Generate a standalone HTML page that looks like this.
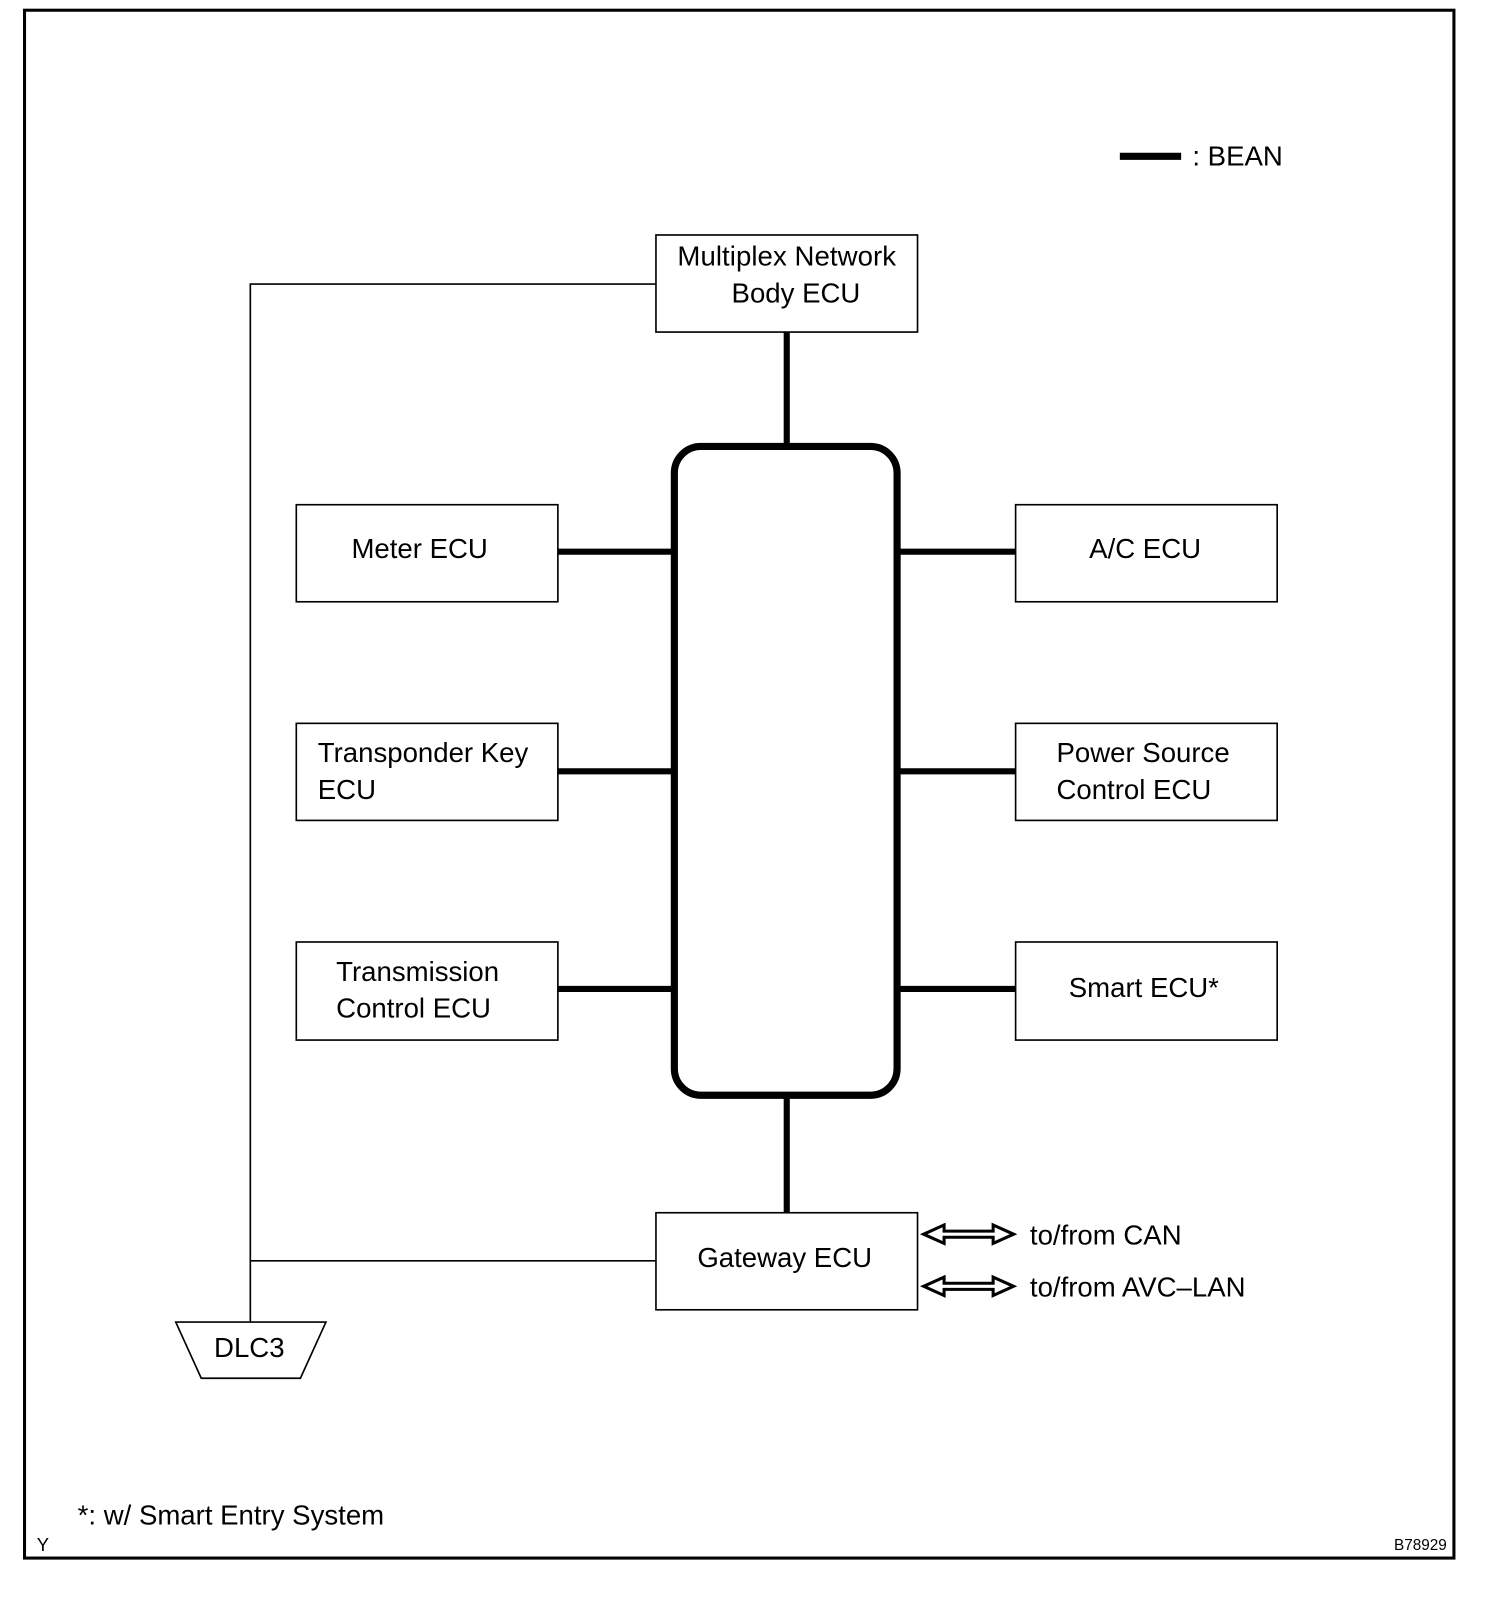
<!DOCTYPE html>
<html><head><meta charset="utf-8"><style>
html,body{margin:0;padding:0;background:#fff;}
svg{display:block;}
text{font-family:"Liberation Sans",sans-serif;font-size:27px;fill:#000;}
</style></head><body>
<svg width="1504" height="1602" viewBox="0 0 1472 1568" preserveAspectRatio="none" xmlns="http://www.w3.org/2000/svg">
<rect x="24" y="10" width="1399" height="1515" fill="#fff" stroke="#000" stroke-width="3"/>
<line x1="1096" y1="153" x2="1156" y2="153" stroke="#000" stroke-width="7"/>
<text x="1167" y="162">: BEAN</text>
<g fill="#fff" stroke="#000" stroke-width="1.6">
<rect x="642" y="230" width="256" height="95"/>
<rect x="290" y="494" width="256" height="95"/>
<rect x="290" y="708" width="256" height="95"/>
<rect x="290" y="922" width="256" height="96"/>
<rect x="994" y="494" width="256" height="95"/>
<rect x="994" y="708" width="256" height="95"/>
<rect x="994" y="922" width="256" height="96"/>
<rect x="642" y="1187" width="256" height="95"/>
<polyline points="642,278 245,278 245,1294" fill="none"/>
<line x1="245" y1="1234" x2="642" y2="1234"/>
<polygon points="172,1294 319,1294 294,1349 197,1349"/>
</g>
<rect x="660" y="437" width="218" height="635" rx="26" fill="none" stroke="#000" stroke-width="7"/>
<g stroke="#000" stroke-width="6">
<line x1="770" y1="325" x2="770" y2="437"/>
<line x1="770" y1="1072" x2="770" y2="1187"/>
<line x1="546" y1="540" x2="660" y2="540"/>
<line x1="546" y1="755" x2="660" y2="755"/>
<line x1="546" y1="968" x2="660" y2="968"/>
<line x1="878" y1="540" x2="994" y2="540"/>
<line x1="878" y1="755" x2="994" y2="755"/>
<line x1="878" y1="968" x2="994" y2="968"/>
</g>
<g fill="#fff" stroke="#000" stroke-width="3">
<polygon points="904,1208 924,1199 924,1205 972,1205 972,1199 992,1208 972,1217 972,1211 924,1211 924,1217"/>
<polygon points="904,1259 924,1250 924,1256 972,1256 972,1250 992,1259 972,1268 972,1262 924,1262 924,1268"/>
</g>
<text x="770" y="260" text-anchor="middle" textLength="214">Multiplex Network</text>
<text x="779" y="296" text-anchor="middle">Body ECU</text>
<text x="344" y="546">Meter ECU</text>
<text x="311" y="746">Transponder Key</text>
<text x="311" y="782">ECU</text>
<text x="329" y="960">Transmission</text>
<text x="329" y="996">Control ECU</text>
<text x="1066" y="546">A/C ECU</text>
<text x="1034" y="746">Power Source</text>
<text x="1034" y="782">Control ECU</text>
<text x="1046" y="976">Smart ECU*</text>
<text x="768" y="1240" text-anchor="middle">Gateway ECU</text>
<text x="1008" y="1218">to/from CAN</text>
<text x="1008" y="1269">to/from AVC–LAN</text>
<text x="244" y="1328" text-anchor="middle">DLC3</text>
<text x="76" y="1492">*: w/ Smart Entry System</text>
<text x="36" y="1518" style="font-size:18px">Y</text>
<text x="1416" y="1517" text-anchor="end" style="font-size:15px">B78929</text>
</svg>
</body></html>
